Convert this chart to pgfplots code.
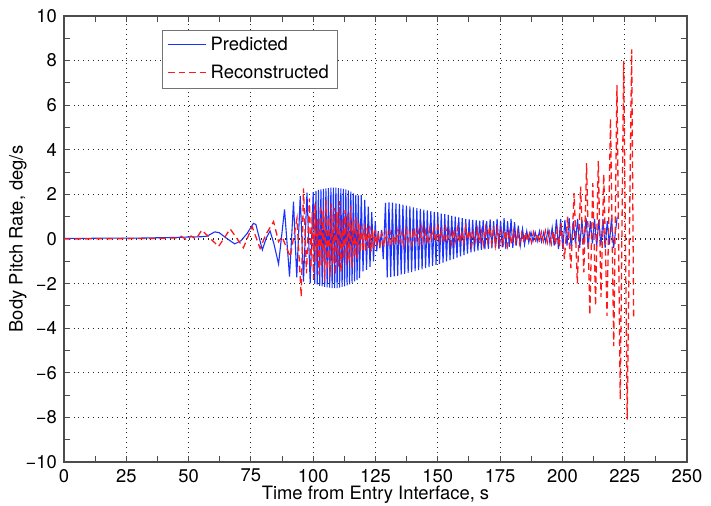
\documentclass[border=0pt]{standalone}
\usepackage{fontspec}
\setmainfont{TeX Gyre Heros}
\usepackage{pgfplots}
\pgfplotsset{compat=1.18}
\definecolor{mblue}{rgb}{0.1,0.2,1}
\definecolor{mred}{rgb}{1,0.1,0.1}
\begin{document}
\begin{tikzpicture}[font=\fontsize{9.2}{11}\selectfont]
\path[use as bounding box] (-32pt,-22pt) rectangle (323.5pt,231pt);
\begin{axis}[
  at={(0pt,0pt)}, anchor=south west,
  width=311.5pt, height=223pt, scale only axis,
  xmin=0, xmax=250, ymin=-10, ymax=10,
  xtick={0,25,50,75,100,125,150,175,200,225,250},
  xticklabels={0,25,50,75,100,125,150,175,200,225,250},
  ytick={-10,-8,-6,-4,-2,0,2,4,6,8,10},
  yticklabels={−10,−8,−6,−4,−2,0,2,4,6,8,10},
  minor x tick num=1, minor y tick num=1,
  tick align=inside, tick pos=both,
  major tick length=3pt, minor tick length=3pt,
  every tick/.style={black!70, line width=0.5pt},
  axis line style={black!70, line width=0.6pt},
  grid=major,
  major grid style={dotted, black!85, line width=0.55pt},
  xlabel={Time from Entry Interface, s},
  ylabel={Body Pitch Rate, deg/s},
  xlabel style={at={(axis description cs:0.5,0)}, anchor=base, yshift=-19pt},
  ylabel style={at={(axis description cs:0,0.5)}, anchor=center, yshift=23pt},
  legend style={at={(0.157,0.969)}, anchor=north west, draw=black!55,
    fill=white, inner xsep=2.5pt, inner ysep=1.5pt, row sep=1.5pt},
  legend cell align=left,
]
\addplot[draw=mblue, line width=0.55pt,
  legend image code/.code={\draw[draw=mblue, line width=0.75pt] (0pt,0.4pt) -- (19pt,0.4pt);}] coordinates {
(0,0.03) (10,0.03) (20,0.04) (30,0.04) (40,0.06) (45,0.07) (50,0.09) (55,0.1) (57.5,0.13) (60.5,0.32) (62.3,0.28) (65,0.05) (68.5,-0.22) (71,-0.08) (73.5,0.25) (76,0.7) (77,0.65) (79.6,-0.49) (81.2,0.05) (82.7,0.36) (84.2,-0.2) (86.1,-1.12) (88.5,1.33) (90.5,-1.69) (92.1,1.67) (93.4,-1.72) (94.8,1.93) (96.1,-1.91) (97.5,2.08) (98.8,-1.99)
(100.0,2.1) (100.6,-2.0) (101.1,2.15) (101.6,-2.05) (102.1,2.2) (102.6,-2.1) (103.1,2.22) (103.6,-2.12) (104.1,2.25) (104.6,-2.15) (105.1,2.27) (105.6,-2.17) (106.1,2.28) (106.6,-2.18) (107.1,2.3) (107.6,-2.2) (108.1,2.3) (108.6,-2.2) (109.1,2.3) (109.6,-2.2) (110.1,2.28) (110.6,-2.18) (111.1,2.27) (111.6,-2.15) (112.1,2.25) (112.6,-2.12) (113.1,2.22) (113.6,-2.08) (114.1,2.18) (114.6,-2.03) (115.1,2.12) (115.6,-1.97) (116.1,2.05) (116.6,-1.9) (117.1,1.98) (117.6,-1.84) (118.1,1.95) (118.6,-1.75)
(119.3,1.97) (120.0,-1.45) (120.7,1.75) (121.4,-1.38) (122.1,1.45) (122.8,-1.25) (123.5,1.2) (124.2,-1.0) (124.9,0.8) (125.5,-0.55) (126.1,0.35) (126.7,-0.4) (127.4,0.4) (128.1,-0.9)
(129.0,1.62) (129.7,-1.72) (130.4,1.64) (131.1,-1.7) (131.8,1.63) (132.5,-1.68) (133.2,1.6) (133.9,-1.65) (134.6,1.57) (135.3,-1.6) (136.0,1.54) (136.7,-1.56) (137.4,1.5) (138.1,-1.52) (138.8,1.46) (139.5,-1.48) (140.2,1.42) (140.9,-1.44) (141.6,1.38) (142.3,-1.4) (143.0,1.35) (143.7,-1.36) (144.4,1.32) (145.1,-1.31) (145.8,1.28) (146.5,-1.26) (147.2,1.25) (147.9,-1.21) (148.6,1.21) (149.3,-1.16) (150.0,1.18) (150.7,-1.11) (151.4,1.14) (152.1,-1.06) (152.8,1.11) (153.5,-1.0) (154.2,1.08) (154.9,-0.95) (155.6,1.04) (156.3,-0.9) (157.0,1.0) (157.7,-0.84) (158.4,0.97) (159.1,-0.78) (159.8,0.93) (160.5,-0.72) (161.2,0.9) (161.9,-0.66) (162.6,0.88) (163.3,-0.6) (164.0,0.86) (164.7,-0.56) (165.4,0.84) (166.1,-0.52) (166.8,0.82) (167.5,-0.49) (168.2,0.85) (168.9,-0.46) (169.6,0.8) (170.3,-0.44) (171.0,0.88) (171.7,-0.42) (172.4,0.8) (173.1,-0.4) (173.8,0.9) (174.5,-0.45) (175.2,0.82) (175.9,-0.38) (176.6,0.93) (177.3,-0.45) (178.0,0.8) (178.7,-0.35) (179.4,0.9) (180.1,-0.4) (180.8,0.75) (181.5,-0.3)
(182.3,0.6) (183.1,-0.3) (184.0,0.45) (184.8,-0.25) (185.7,0.35) (186.5,-0.15) (187.4,0.3) (188.2,-0.1) (189.1,0.3) (189.9,-0.1) (190.8,0.35) (191.6,-0.12) (192.5,0.3) (193.3,-0.15) (194.2,0.4) (195.0,-0.2) (195.9,0.5) (196.7,-0.3) (197.6,0.88) (198.4,-0.45)
(199.3,0.9) (200.15,-0.45) (201.0,0.85) (201.85,-0.3) (202.7,0.95) (203.55,-0.45) (204.4,0.8) (205.25,-0.2) (206.1,0.9) (206.95,-0.4) (207.8,0.85) (208.65,-0.25) (209.5,0.95) (210.35,-0.45) (211.2,0.8) (212.05,-0.2) (212.9,0.9) (213.75,-0.35) (214.6,0.85) (215.45,-0.3) (216.3,0.9) (217.15,-0.4) (218.0,0.8) (218.85,-0.25) (219.7,0.95) (220.55,-0.4) (222.0,1.0)
};
\addlegendentry{Predicted}
\addplot[draw=mred, line width=0.65pt, dash pattern=on 3.3pt off 2pt,
  legend image code/.code={\draw[draw=mred, line width=0.65pt, dash pattern=on 3.3pt off 2pt] (0pt,0pt) -- (19pt,0pt);}] coordinates {
(0,0.0) (15,0.01) (30,0.02) (40,0.03) (45,0.05) (47,0.12) (49,-0.02) (51,0.13) (53,0.0) (55.3,0.4) (58.5,0.05) (62,-0.34) (66.7,0.45) (72,-0.39) (75.5,0.55) (78.7,-0.42) (81,0.2) (84.1,0.78) (86.1,-0.12) (87.5,0.1) (90.8,-0.8) (93.5,0.93) (95.2,-2.59) (96.1,2.27) (97.3,-1.54) (98.5,1.82)
(99.05,-1.3) (99.6,1.2) (100.15,-1.8) (100.7,1.6) (101.25,-1.0) (101.8,0.9) (102.35,-1.6) (102.9,1.5) (103.45,-1.2) (104.0,1.3) (104.55,-1.9) (105.1,1.75) (105.65,-1.4) (106.2,1.0) (106.75,-1.7) (107.3,1.6) (107.85,-1.1) (108.4,1.4) (108.95,-1.6) (109.5,1.2) (110.05,-1.3) (110.6,1.7) (111.15,-1.5) (111.7,0.9) (112.25,-0.9) (112.8,1.3) (113.35,-1.2) (113.9,1.1) (114.45,-1.0) (115.0,1.5) (115.55,-1.3) (116.1,0.8) (116.65,-0.8) (117.2,1.0) (117.75,-0.9) (118.3,0.7) (118.85,-0.6)
(119.4,0.6) (119.95,-0.5) (120.5,0.7) (121.05,-0.6) (121.6,0.5) (122.15,-0.4) (122.7,0.6) (123.25,-0.55) (123.8,0.45) (124.35,-0.4) (124.9,0.4) (125.45,-0.3)
(126.0,0.3) (126.8,-0.3) (127.6,0.25) (128.4,-0.35) (129.2,0.3) (130.0,-0.2) (130.8,0.35) (131.6,-0.3) (132.4,0.2) (133.2,-0.25) (134.0,0.4) (134.8,-0.15) (135.6,0.3) (136.4,-0.3) (137.2,0.45) (138.0,-0.1) (138.8,0.3) (139.6,-0.25) (140.4,0.5) (141.2,-0.05) (142.0,0.45) (142.8,-0.2) (143.6,0.55) (144.4,-0.1) (145.2,0.4) (146.0,-0.25) (146.8,0.5) (147.6,0.0) (148.4,0.45) (149.2,-0.15) (150.0,0.55) (150.8,-0.05) (151.6,0.4) (152.4,-0.2) (153.2,0.5) (154.0,0.0) (154.8,0.35) (155.6,-0.25) (156.4,0.45) (157.2,-0.1) (158.0,0.5) (158.8,-0.2) (159.6,0.35) (160.4,-0.15) (161.2,0.55) (162.0,-0.05) (162.8,0.4) (163.6,-0.3) (164.4,0.3) (165.2,-0.1) (166.0,0.45) (166.8,-0.2) (167.6,0.35) (168.4,-0.25) (169.2,0.5) (170.0,-0.1) (170.8,0.55) (171.6,-0.2) (172.4,0.4) (173.2,-0.3) (174.0,0.45) (174.8,-0.25) (175.6,0.35) (176.4,-0.2) (177.2,0.4) (178.0,-0.3) (178.8,0.3) (179.6,-0.25) (180.4,0.35) (181.2,-0.15) (182.0,0.3) (182.8,-0.2) (183.6,0.25) (184.4,-0.15) (185.2,0.3) (186.0,-0.1) (186.8,0.25) (187.6,-0.15) (188.4,0.3) (189.2,-0.05) (190.0,0.25) (190.8,-0.15) (191.6,0.3) (192.4,-0.1) (193.2,0.35) (194.0,-0.15) (194.8,0.3) (195.6,-0.2) (196.4,0.35) (197.2,-0.25) (198.0,0.4) (198.8,-0.35)
(199.5,0.7) (200.8,-0.9) (202.1,1.0) (203.4,-1.3) (204.7,2.05) (206.0,-2.0) (207.3,2.35) (208.6,-1.5) (209.7,3.4) (211.0,-3.4) (212.2,2.5) (213.3,-3.0) (214.4,3.5) (215.5,-2.6) (216.6,2.9) (217.9,-3.45) (219.3,5.4) (220.6,-4.8) (221.9,6.9) (223.2,-7.2) (224.6,8.0) (226.0,-8.1) (227.8,8.5) (228.6,-3.6)
};
\addlegendentry{Reconstructed}
\end{axis}
\end{tikzpicture}
\end{document}
